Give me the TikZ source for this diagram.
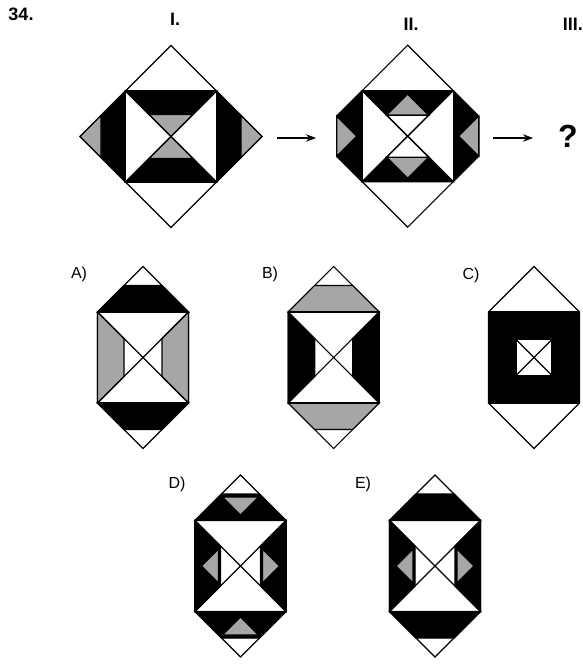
\documentclass[tikz,border=0pt]{standalone}
\usepackage{fontspec}
\setmainfont{Liberation Sans}
\usetikzlibrary{arrows.meta}
\begin{document}
\begin{tikzpicture}[x=1pt,y=-1pt,
  ln/.style={line width=1.1pt,line join=miter,draw=black},
  blk/.style={ln,fill=black},
  gry/.style={ln,fill=black!35},
  wht/.style={ln,fill=white},
  num/.style={font=\bfseries\fontsize{18}{18}\selectfont,inner sep=0pt},
  opt/.style={font=\fontsize{16}{16}\selectfont,inner sep=0pt},
  arr/.style={line width=1.2pt,-{Stealth[length=10pt,width=7.5pt]}}]
\useasboundingbox (0,0) rectangle (583,664);
\fill[white] (0,0) rectangle (583,664);

% ---------- labels ----------
\node[num] (n34) at (21,14) {34.};
\node[num] (nI) at (175,19) {I.};
\node[num] (nII) at (411,24) {II.};
\node[num,anchor=east] (nIII) at (583,24) {III.};
\node[font=\bfseries\fontsize{32}{32}\selectfont,inner sep=0pt] (q) at (568,136) {?};

% ---------- Figure I ----------
\begin{scope}[shift={(171,136.5)}]
 \path[wht] (0,-91)--(91,0)--(0,91)--(-91,0)--cycle;
 \path[blk] (-45.5,-45.5)--(-70,-21)--(-70,21)--(-45.5,45.5)--cycle;
 \path[gry] (-70,-21)--(-91,0)--(-70,21)--cycle;
 \path[blk] (45.5,-45.5)--(70,-21)--(70,21)--(45.5,45.5)--cycle;
 \path[gry] (70,-21)--(91,0)--(70,21)--cycle;
 \path[wht] (-45.5,-45.5) rectangle (45.5,45.5);
 \path[blk] (-45.5,-45.5)--(45.5,-45.5)--(22,-22)--(-22,-22)--cycle;
 \path[gry] (-22,-22)--(22,-22)--(0,0)--cycle;
 \path[blk] (-45.5,45.5)--(45.5,45.5)--(22,22)--(-22,22)--cycle;
 \path[gry] (-22,22)--(22,22)--(0,0)--cycle;
 \draw[ln] (-45.5,-45.5)--(45.5,45.5) (45.5,-45.5)--(-45.5,45.5);
\end{scope}

% ---------- Figure II ----------
\begin{scope}[shift={(407.7,136.2)}]
 \path[wht] (0,-91)--(45.5,-45.5)--(71,-20)--(71,20)--(45.5,45.5)--(0,91)--(-45.5,45.5)--(-71,20)--(-71,-20)--(-45.5,-45.5)--cycle;
 \path[blk] (-45.5,-45.5)--(-71,-20)--(-71,20)--(-45.5,45.5)--cycle;
 \path[gry] (-71,-20)--(-51,0)--(-71,20)--cycle;
 \path[blk] (45.5,-45.5)--(71,-20)--(71,20)--(45.5,45.5)--cycle;
 \path[gry] (71,-20)--(51,0)--(71,20)--cycle;
 \path[wht] (-45.5,-45.5) rectangle (45.5,45.5);
 \path[blk] (-45.5,-45.5)--(45.5,-45.5)--(0,0)--cycle;
 \path[gry] (-21,-21)--(21,-21)--(0,-42)--cycle;
 \path[wht] (-21,-21)--(21,-21)--(0,0)--cycle;
 \path[blk] (-45.5,45.5)--(45.5,45.5)--(0,0)--cycle;
 \path[gry] (-21,21)--(21,21)--(0,42)--cycle;
 \path[wht] (-21,21)--(21,21)--(0,0)--cycle;
 \draw[ln] (-45.5,-45.5)--(45.5,45.5) (45.5,-45.5)--(-45.5,45.5);
\end{scope}

% ---------- arrows ----------
\coordinate (a1s) at (277,138);
\coordinate (a1e) at (316,138);
\coordinate (a2s) at (493,138);
\coordinate (a2e) at (533,138);
\draw[arr] (a1s) -- (a1e);
\draw[arr] (a2s) -- (a2e);

% ---------- option labels ----------
\node[opt] (lA) at (79,274) {A)};
\node[opt] (lB) at (270,274) {B)};
\node[opt] (lC) at (471,275) {C)};
\node[opt] (lD) at (177,484) {D)};
\node[opt] (lE) at (363,484) {E)};

% ---------- A ----------
\begin{scope}[shift={(143,357.5)}]
 \path[wht] (0,-91)--(45.5,-45.5)--(45.5,45.5)--(0,91)--(-45.5,45.5)--(-45.5,-45.5)--cycle;
 \path[blk] (-45.5,-45.5)--(45.5,-45.5)--(19,-72)--(-19,-72)--cycle;
 \path[blk] (-45.5,45.5)--(45.5,45.5)--(19,72)--(-19,72)--cycle;
 \path[gry] (-45.5,-45.5)--(-19,-19)--(-19,19)--(-45.5,45.5)--cycle;
 \path[gry] (45.5,-45.5)--(19,-19)--(19,19)--(45.5,45.5)--cycle;
 \draw[ln] (-45.5,-45.5) rectangle (45.5,45.5);
 \draw[ln] (-45.5,-45.5)--(45.5,45.5) (45.5,-45.5)--(-45.5,45.5);
\end{scope}

% ---------- B ----------
\begin{scope}[shift={(333.7,357.5)}]
 \path[wht] (0,-91)--(45.5,-45.5)--(45.5,45.5)--(0,91)--(-45.5,45.5)--(-45.5,-45.5)--cycle;
 \path[gry] (-45.5,-45.5)--(45.5,-45.5)--(19,-72)--(-19,-72)--cycle;
 \path[gry] (-45.5,45.5)--(45.5,45.5)--(19,72)--(-19,72)--cycle;
 \path[blk] (-45.5,-45.5)--(-19,-19)--(-19,19)--(-45.5,45.5)--cycle;
 \path[blk] (45.5,-45.5)--(19,-19)--(19,19)--(45.5,45.5)--cycle;
 \draw[ln] (-45.5,-45.5) rectangle (45.5,45.5);
 \draw[ln] (-45.5,-45.5)--(45.5,45.5) (45.5,-45.5)--(-45.5,45.5);
\end{scope}

% ---------- C ----------
\begin{scope}[shift={(534,357.5)}]
 \path[wht] (0,-91)--(45.5,-45.5)--(45.5,45.5)--(0,91)--(-45.5,45.5)--(-45.5,-45.5)--cycle;
 \path[blk] (-45.5,-45.5) rectangle (45.5,45.5);
 \path[wht] (-18,-18) rectangle (18,18);
 \draw[ln] (-18,-18)--(18,18) (18,-18)--(-18,18);
\end{scope}

% ---------- D ----------
\begin{scope}[shift={(240.5,566)}]
 \path[wht] (0,-91)--(45.5,-45.5)--(45.5,45.5)--(0,91)--(-45.5,45.5)--(-45.5,-45.5)--cycle;
 \path[blk] (-45.5,-45.5)--(45.5,-45.5)--(19,-72)--(-19,-72)--cycle;
 \path[gry] (-18,-69)--(18,-69)--(0,-51)--cycle;
 \path[blk] (-45.5,45.5)--(45.5,45.5)--(19,72)--(-19,72)--cycle;
 \path[gry] (-18,69)--(18,69)--(0,51)--cycle;
 \path[blk] (-45.5,-45.5)--(-20,-20)--(-20,20)--(-45.5,45.5)--cycle;
 \path[gry] (-22,-17)--(-39,0)--(-22,17)--cycle;
 \path[blk] (45.5,-45.5)--(20,-20)--(20,20)--(45.5,45.5)--cycle;
 \path[gry] (22,-17)--(39,0)--(22,17)--cycle;
 \draw[ln] (-45.5,-45.5) rectangle (45.5,45.5);
 \draw[ln] (-45.5,-45.5)--(45.5,45.5) (45.5,-45.5)--(-45.5,45.5);
\end{scope}

% ---------- E ----------
\begin{scope}[shift={(435,566)}]
 \path[wht] (0,-91)--(45.5,-45.5)--(45.5,45.5)--(0,91)--(-45.5,45.5)--(-45.5,-45.5)--cycle;
 \path[blk] (-45.5,-45.5)--(45.5,-45.5)--(19,-72)--(-19,-72)--cycle;
 \path[blk] (-45.5,45.5)--(45.5,45.5)--(19,72)--(-19,72)--cycle;
 \path[blk] (-45.5,-45.5)--(-20,-20)--(-20,20)--(-45.5,45.5)--cycle;
 \path[gry] (-22,-17)--(-39,0)--(-22,17)--cycle;
 \path[blk] (45.5,-45.5)--(20,-20)--(20,20)--(45.5,45.5)--cycle;
 \path[gry] (22,-17)--(39,0)--(22,17)--cycle;
 \draw[ln] (-45.5,-45.5) rectangle (45.5,45.5);
 \draw[ln] (-45.5,-45.5)--(45.5,45.5) (45.5,-45.5)--(-45.5,45.5);
\end{scope}
\end{tikzpicture}
\end{document}
